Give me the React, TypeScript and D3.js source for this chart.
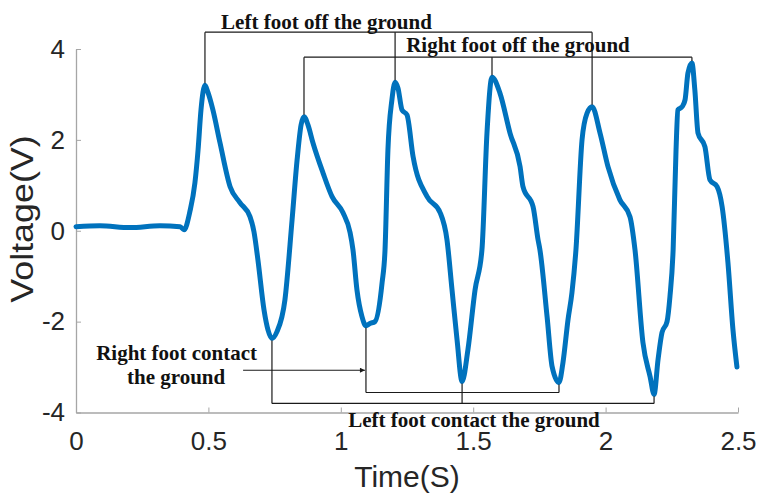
import React from "react";
import * as d3 from "d3";

// gait signal, time in seconds and voltage in volts
const time = [
  0, 0.09, 0.204, 0.317, 0.393, 0.408, 0.43, 0.449, 0.461, 0.472, 0.487, 0.498, 0.517, 0.544,
  0.582, 0.619, 0.657, 0.672, 0.687, 0.71, 0.725, 0.74, 0.759, 0.789, 0.816, 0.835, 0.85, 0.861,
  0.876, 0.895, 0.933, 0.967, 1.008, 1.035, 1.046, 1.061, 1.08, 1.095, 1.11, 1.129, 1.156, 1.167,
  1.178, 1.193, 1.205, 1.216, 1.231, 1.25, 1.273, 1.326, 1.375, 1.401, 1.42, 1.439, 1.458, 1.48,
  1.507, 1.533, 1.552, 1.571, 1.601, 1.639, 1.677, 1.688, 1.726, 1.745, 1.752, 1.779, 1.798, 1.824,
  1.839, 1.858, 1.873, 1.888, 1.911, 1.93, 1.949, 1.979, 2.009, 2.054, 2.092, 2.111, 2.141, 2.168,
  2.183, 2.198, 2.213, 2.232, 2.243, 2.255, 2.266, 2.273, 2.289, 2.3, 2.311, 2.326, 2.337, 2.349,
  2.375, 2.394, 2.421, 2.44, 2.462, 2.481, 2.496
];
const voltage = [
  0.09, 0.11, 0.07, 0.11, 0.09, 0.02, 0.42, 1.05, 1.78, 2.66, 3.2, 3.05, 2.66, 1.93,
  0.97, 0.62, 0.31, -0.02, -0.64, -1.74, -2.18, -2.37, -2.22, -1.52, 0.24, 1.56, 2.33, 2.51,
  2.33, 1.93, 1.27, 0.75, 0.4, -0.04, -0.42, -1.3, -1.89, -2.09, -2.04, -2.0, -1.14, -0.42,
  1.78, 2.88, 3.27, 3.14, 2.66, 2.55, 1.63, 0.75, 0.4, -0.2, -1.3, -2.4, -3.32, -2.62,
  -1.3, -0.42, 2.15, 3.38, 3.03, 2.15, 1.41, 0.97, 0.53, -0.2, -0.42, -1.89, -2.99, -3.34,
  -2.9, -1.96, -1.36, -0.42, 2.0, 2.59, 2.73, 2.15, 1.41, 0.68, 0.31, -0.42, -2.46, -3.21,
  -3.6, -2.84, -2.24, -2.0, -1.45, -0.42, 1.78, 2.66, 2.73, 2.88, 3.47, 3.69, 3.1, 2.15,
  1.85, 1.12, 0.97, 0.53, -0.7, -2.18, -3.0
];

const xTicks = [0, 0.5, 1, 1.5, 2, 2.5];
const xTickLabels = ["0", "0.5", "1", "1.5", "2", "2.5"];
const yTicks = [-4, -2, 0, 2, 4];
const yTickLabels = ["-4", "-2", "0", "2", "4"];

// gait events (times of the peaks / troughs they point at)
const leftOffTimes = [0.487, 1.205, 1.949];
const rightOffTimes = [0.861, 1.571, 2.326];
const leftContactTimes = [0.74, 1.458, 2.183];
const rightContactTimes = [1.095, 1.824];

class GaitChart extends React.Component {
  constructor(props) {
    super(props);
    this.svgRef = React.createRef();
    this.width = 764;
    this.height = 500;
    this.margin = { top: 49, right: 26, bottom: 87.5, left: 76 };
  }

  componentDidMount() {
    this.d3Render();
  }

  d3Render() {
    const { margin, width, height } = this;
    const svg = d3.select(this.svgRef.current);
    svg.selectAll("*").remove();

    const x = d3.scaleLinear().domain([0, 2.5]).range([margin.left, width - margin.right]);
    const y = d3.scaleLinear().domain([-4, 4]).range([height - margin.bottom, margin.top]);

    this.drawAxes(svg, x, y);
    this.drawLine(svg, x, y);
    this.drawAnnotations(svg, x, y);
  }

  drawAxes(svg, x, y) {
    const { margin, width } = this;
    const axisColor = "#a6a6a6";
    const textColor = "#262626";

    const gx = svg.append("g")
      .attr("transform", "translate(0," + y(-4) + ")")
      .call(d3.axisBottom(x)
        .tickValues(xTicks)
        .tickFormat((d, i) => xTickLabels[i])
        .tickSizeInner(-5)
        .tickSizeOuter(0)
        .tickPadding(19));
    gx.select(".domain").attr("stroke", axisColor).attr("stroke-width", 1.3);
    gx.selectAll(".tick line").attr("stroke", axisColor);
    gx.selectAll(".tick text")
      .attr("fill", textColor)
      .style("font-family", "'Liberation Sans', Arial, sans-serif")
      .style("font-size", "26px");

    const gy = svg.append("g")
      .attr("transform", "translate(" + x(0) + ",0)")
      .call(d3.axisLeft(y)
        .tickValues(yTicks)
        .tickFormat((d, i) => yTickLabels[i])
        .tickSizeInner(-5)
        .tickSizeOuter(0)
        .tickPadding(11));
    gy.select(".domain").attr("stroke", axisColor).attr("stroke-width", 1.3);
    gy.selectAll(".tick line").attr("stroke", axisColor);
    gy.selectAll(".tick text")
      .attr("fill", textColor)
      .style("font-family", "'Liberation Sans', Arial, sans-serif")
      .style("font-size", "26px");

    svg.append("text")
      .attr("x", (margin.left + width - margin.right) / 2)
      .attr("y", 487)
      .attr("text-anchor", "middle")
      .attr("fill", textColor)
      .style("font-family", "'Liberation Sans', Arial, sans-serif")
      .style("font-size", "30px")
      .text("Time(S)");

    // the y label in the source is stretched a little along its length
    svg.append("text")
      .attr("transform", "translate(33,219) rotate(-90) scale(1.12,1)")
      .attr("text-anchor", "middle")
      .attr("fill", textColor)
      .style("font-family", "'Liberation Sans', Arial, sans-serif")
      .style("font-size", "32px")
      .text("Voltage(V)");
  }

  drawLine(svg, x, y) {
    const points = time.map((t, i) => [t, voltage[i]]);
    const line = d3.line()
      .x(d => x(d[0]))
      .y(d => y(d[1]))
      .curve(d3.curveMonotoneX);

    svg.append("path")
      .datum(points)
      .attr("fill", "none")
      .attr("stroke", "#0072BD")
      .attr("stroke-width", 5)
      .attr("stroke-linejoin", "round")
      .attr("stroke-linecap", "round")
      .attr("d", line);
  }

  drawAnnotations(svg, x, y) {
    const ink = "#1a1a1a";
    const valueAt = t => voltage[d3.minIndex(time, tt => Math.abs(tt - t))];
    const g = svg.append("g").attr("stroke", ink).attr("stroke-width", 1.2).attr("fill", "none");

    // bracket: horizontal level with drops to each event on the curve
    const bracket = (times, level, gap) => {
      g.append("line")
        .attr("x1", x(times[0])).attr("x2", x(times[times.length - 1]))
        .attr("y1", y(level)).attr("y2", y(level));
      times.forEach(t => {
        const v = valueAt(t);
        g.append("line")
          .attr("x1", x(t)).attr("x2", x(t))
          .attr("y1", y(level))
          .attr("y2", y(v) + gap);
      });
    };

    bracket(leftOffTimes, 4.37, -2);
    bracket(rightOffTimes, 3.82, -2);
    bracket(rightContactTimes, -3.56, 2);
    bracket(leftContactTimes, -3.8, 2);

    // arrow from the right-foot-contact label
    svg.append("defs").append("marker")
      .attr("id", "arrowHead")
      .attr("viewBox", "0 0 10 10")
      .attr("refX", 10).attr("refY", 5)
      .attr("markerWidth", 6).attr("markerHeight", 5)
      .attr("markerUnits", "userSpaceOnUse")
      .attr("orient", "auto")
      .append("path")
      .attr("d", "M0,0L10,5L0,10z")
      .attr("fill", ink);

    g.append("line")
      .attr("x1", x(0.631)).attr("x2", x(rightContactTimes[0]) - 1)
      .attr("y1", y(-3.07)).attr("y2", y(-3.07))
      .attr("marker-end", "url(#arrowHead)");

    const label = (txt, t, v) => svg.append("text")
      .attr("x", x(t))
      .attr("y", y(v))
      .attr("text-anchor", "middle")
      .attr("fill", "#111")
      .style("font-family", "'Liberation Serif', 'Times New Roman', serif")
      .style("font-weight", "bold")
      .style("font-size", "21px")
      .text(txt);

    label("Left foot off the ground", 0.946, 4.44);
    label("Right foot off the ground", 1.669, 3.94);
    label("Left foot contact the ground", 1.503, -4.33);
    label("Right foot contact", 0.38, -2.85);
    label("the ground", 0.378, -3.38);
  }

  render() {
    return (
      <svg
        ref={this.svgRef}
        width={this.width}
        height={this.height}
        style={{ position: "absolute", left: 0, top: 0, background: "#fff" }}
      />
    );
  }
}

export default function App() {
  return <GaitChart />;
}
